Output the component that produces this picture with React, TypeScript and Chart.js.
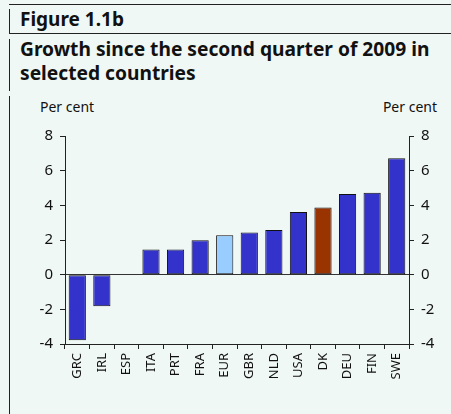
import React, { useEffect, useRef } from "react";
import { Chart, registerables } from "chart.js";

Chart.register(...registerables);

const categories = ["GRC", "IRL", "ESP", "ITA", "PRT", "FRA", "EUR", "GBR", "NLD", "USA", "DK", "DEU", "FIN", "SWE"];
const growth = [-3.78, -1.82, 0, 1.45, 1.45, 1.98, 2.28, 2.43, 2.58, 3.62, 3.88, 4.65, 4.72, 6.72];
const barColors = ["#3333cc", "#3333cc", "#3333cc", "#3333cc", "#3333cc", "#3333cc", "#99ccff", "#3333cc", "#3333cc", "#3333cc", "#993300", "#3333cc", "#3333cc", "#3333cc"];
const yMin = -4;
const yMax = 8;
const yStep = 2;

const BG = "#f0f8f5";
const INK = "#111";
const FONT = "'Noto Sans', 'Open Sans', sans-serif";

export default function App() {
  const ref = useRef<HTMLCanvasElement | null>(null);

  useEffect(() => {
    if (!ref.current) return;
    const axisColor = "#222";
    const zeroColor = "#333";
    const chart = new Chart(ref.current, {
      type: "bar",
      data: {
        labels: categories,
        datasets: [
          {
            data: growth,
            backgroundColor: barColors,
            borderColor: "#111",
            borderWidth: 1,
            borderSkipped: false,
            barPercentage: 0.7,
            categoryPercentage: 1,
          },
        ],
      },
      options: {
        responsive: false,
        animation: false,
        layout: { padding: { top: 136, left: 0, right: 0, bottom: 0 } },
        plugins: { legend: { display: false }, tooltip: { enabled: false } },
        scales: {
          x: {
            grid: { drawOnChartArea: false, tickColor: axisColor, tickLength: 5, offset: true },
            border: { color: axisColor, width: 1 },
            ticks: {
              minRotation: 90,
              maxRotation: 90,
              padding: 4,
              color: INK,
              font: { family: FONT, size: 13 },
            },
            afterFit: (s: any) => {
              s.height = 70;
            },
          },
          y: {
            position: "left",
            min: yMin,
            max: yMax,
            ticks: { stepSize: yStep, padding: 7, color: INK, font: { family: FONT, size: 15 } },
            grid: {
              color: (c: any) => (c.tick && c.tick.value === 0 ? zeroColor : "rgba(0,0,0,0)"),
              tickColor: axisColor,
              tickLength: 5,
            },
            border: { color: axisColor, width: 1 },
            afterFit: (s: any) => {
              s.width = 65;
            },
          },
          y2: {
            position: "right",
            min: yMin,
            max: yMax,
            ticks: { stepSize: yStep, padding: 7, color: INK, font: { family: FONT, size: 15 } },
            grid: { drawOnChartArea: false, tickColor: axisColor, tickLength: 5 },
            border: { color: axisColor, width: 1 },
            afterFit: (s: any) => {
              s.width = 42;
            },
          },
        },
      },
    });
    return () => chart.destroy();
  }, []);

  const line = "#222";
  return (
    <div style={{ position: "fixed", left: 0, top: 0, width: 451, height: 414, background: BG, overflow: "hidden", fontFamily: FONT, color: INK }}>
      <div style={{ position: "absolute", left: 9, top: 4, width: 442, height: 1, background: line }} />
      <div style={{ position: "absolute", left: 9, top: 9, width: 1, height: 25, background: line }} />
      <div style={{ position: "absolute", left: 9, top: 33, width: 442, height: 1, background: line }} />
      <div style={{ position: "absolute", left: 9, top: 39, width: 1, height: 52, background: line }} />
      <div style={{ position: "absolute", left: 9, top: 96, width: 1, height: 318, background: line }} />
      <div style={{ position: "absolute", left: 20, top: 5, fontSize: 19, fontWeight: 700, lineHeight: "28px", whiteSpace: "nowrap" }}>Figure 1.1b</div>
      <div style={{ position: "absolute", left: 20, top: 37, fontSize: 19.2, fontWeight: 700, lineHeight: "24px", whiteSpace: "nowrap" }}>
        Growth since the second quarter of 2009 in
        <br />
        selected countries
      </div>
      <div style={{ position: "absolute", left: 40, top: 98, fontSize: 14, lineHeight: "18px", whiteSpace: "nowrap" }}>Per cent</div>
      <div style={{ position: "absolute", right: 14, top: 98, fontSize: 14, lineHeight: "18px", whiteSpace: "nowrap" }}>Per cent</div>
      <canvas ref={ref} width={451} height={414} style={{ position: "absolute", left: 0, top: 0, width: 451, height: 414 }} />
    </div>
  );
}
